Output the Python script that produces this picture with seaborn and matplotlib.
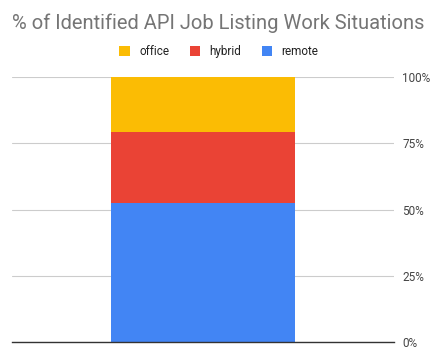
import matplotlib
matplotlib.use("Agg")
import matplotlib.pyplot as plt
import seaborn as sns
import pandas as pd
from matplotlib.patches import Patch

# values (share of listings, %)
situations = ["office", "hybrid", "remote"]
shares = [20.8, 26.9, 52.3]
colors = ["#fbbc04", "#ea4335", "#4285f4"]
tick_vals = [0, 25, 50, 75, 100]
tick_labels = ["0%", "25%", "50%", "75%", "100%"]

sns.set_style("white")
plt.rcParams["font.family"] = ["Roboto", "DejaVu Sans"]

fig = plt.figure(figsize=(4.47, 3.57), dpi=100)
ax = fig.add_axes([0.027, 0.042, 0.854, 0.742])

# stacked bar: draw cumulative totals from top layer down
df = pd.DataFrame({"situation": situations, "share": shares})
cum = df["share"][::-1].cumsum()[::-1].tolist()
for i, name in enumerate(situations):
    sns.barplot(x=[""], y=[cum[i]], color=colors[i], width=0.484,
                saturation=1, linewidth=0, ax=ax, zorder=2)

ax.set_xlim(-0.5, 0.5)
ax.set_ylim(0, 100)
ax.yaxis.tick_right()
ax.set_yticks(tick_vals)
ax.set_yticklabels(tick_labels, fontsize=8.5, color="#444444")
ax.tick_params(axis="y", length=0, pad=6)
ax.set_xticks([])
ax.set_ylabel("")
ax.grid(axis="y", color="#cccccc", linewidth=0.8, zorder=0)
for s in ["top", "right", "left"]:
    ax.spines[s].set_visible(False)
ax.spines["bottom"].set_color("#333333")
ax.spines["bottom"].set_linewidth(1)

fig.text(0.027, 0.935, "% of Identified API Job Listing Work Situations",
         fontsize=14.5, color="#757575", ha="left", va="center")

handles = [Patch(facecolor=c, edgecolor="none") for c in colors]
fig.legend(handles, situations, loc="center", bbox_to_anchor=(0.49, 0.855),
           ncol=3, frameon=False, fontsize=8.5, handlelength=0.9, handleheight=0.9,
           columnspacing=1.7, handletextpad=0.8, labelcolor="#222222")

fig.savefig("out.png", dpi=100)
